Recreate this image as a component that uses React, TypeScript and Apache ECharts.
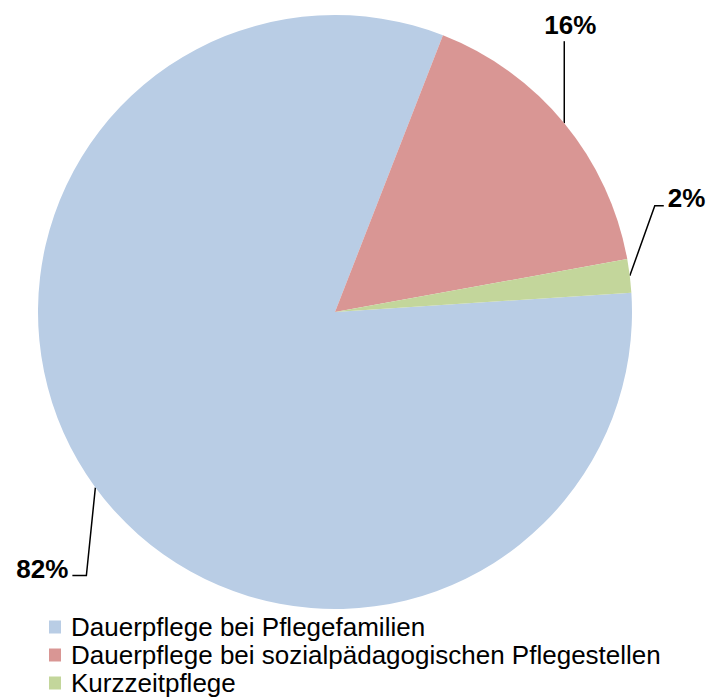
import React, { useEffect, useRef } from "react";
import * as echarts from "echarts";

const categories = [
  "Dauerpflege bei Pflegefamilien",
  "Dauerpflege bei sozialpädagogischen Pflegestellen",
  "Kurzzeitpflege",
];
const values = [81.96, 16.23, 1.81];
const colors = ["#B9CDE5", "#D99694", "#C3D69B"];

// leader-line bends relative to the slice edge point: [dx1, dy1, dx2, dy2], label offset, align
const leaderShapes = [
  { bend: [-9, 88], end: [-23, 88], label: [-27, 82], align: "right" },
  { bend: [0, -82], end: [0, -82], label: [6, -98], align: "center" },
  { bend: [25, -70], end: [34, -70], label: [38, -78], align: "left" },
];

const FONT = "Arial, 'Liberation Sans', sans-serif";

export default function App() {
  const ref = useRef<HTMLDivElement>(null);
  useEffect(() => {
    if (!ref.current) return;
    const chart = echarts.init(ref.current, undefined, { renderer: "svg" });
    chart.setOption({
      animation: false,
      backgroundColor: "#ffffff",
      legend: {
        orient: "vertical",
        left: 49,
        top: 613,
        height: 84,
        padding: 0,
        itemGap: 0,
        itemWidth: 12,
        itemHeight: 13,
        icon: "rect",
        data: categories,
        textStyle: {
          fontFamily: FONT,
          fontSize: 26,
          lineHeight: 28,
          color: "#000",
          padding: [0, 0, 0, 5],
        },
      },
      series: [
        {
          type: "pie",
          center: [335, 312],
          radius: 297,
          startAngle: 3.74,
          clockwise: true,
          avoidLabelOverlap: false,
          data: categories.map((name, i) => ({
            name,
            value: values[i],
            itemStyle: { color: colors[i] },
          })),
          label: {
            show: true,
            position: "outside",
            formatter: (p: any) => Math.round(p.percent) + "%",
            fontFamily: FONT,
            fontSize: 26,
            fontWeight: "bold",
            color: "#000",
          },
          labelLine: {
            show: true,
            length: 20,
            length2: 10,
            lineStyle: { color: "#000", width: 1.5 },
          },
          labelLayout: (params: any) => {
            const s = leaderShapes[params.dataIndex];
            const p0 = params.labelLinePoints ? params.labelLinePoints[0] : [0, 0];
            return {
              x: p0[0] + s.label[0],
              y: p0[1] + s.label[1],
              align: s.align,
              verticalAlign: "middle",
              labelLinePoints: [
                [p0[0], p0[1]],
                [p0[0] + s.bend[0], p0[1] + s.bend[1]],
                [p0[0] + s.end[0], p0[1] + s.end[1]],
              ],
            };
          },
        },
      ],
    });
    return () => chart.dispose();
  }, []);
  return (
    <div
      ref={ref}
      style={{ position: "fixed", left: 0, top: 0, width: 708, height: 697 }}
    />
  );
}
